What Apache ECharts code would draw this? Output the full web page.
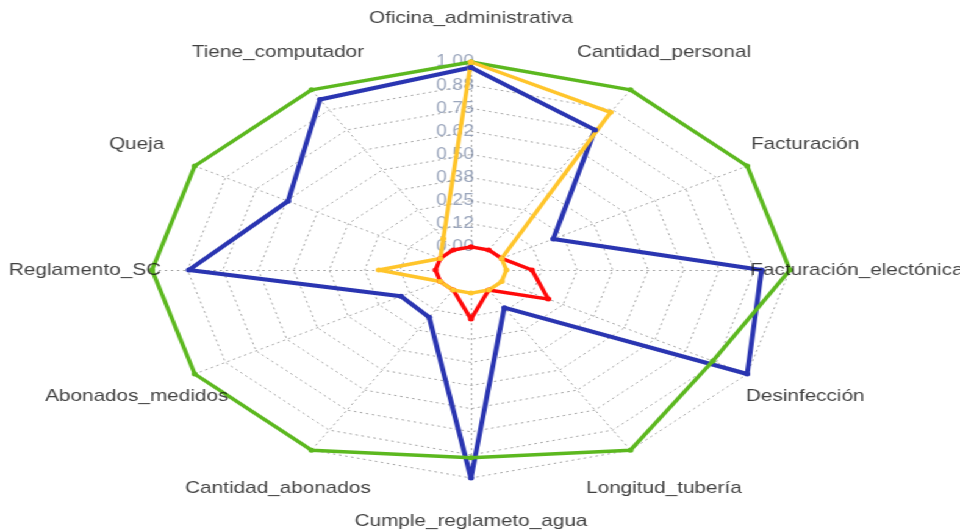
<!DOCTYPE html>
<html><head><meta charset="utf-8">
<script src="https://cdn.jsdelivr.net/npm/echarts@6/dist/echarts.min.js"></script>
<style>
html,body{margin:0;padding:0;background:#fff;overflow:hidden;}
#wrap{width:960px;height:531px;overflow:hidden;position:relative;background:#fff;}
#chart{width:787px;height:531px;transform:scaleX(1.2198);transform-origin:0 0;}
</style></head><body>
<div id="wrap"><div id="chart"></div></div>
<script>
// Axes, clockwise starting from the top
const categories = ["Oficina_administrativa","Cantidad_personal","Facturación","Facturación_electónica","Desinfección","Longitud_tubería","Cumple_reglameto_agua","Cantidad_abonados","Abonados_medidos","Reglamento_SC","Queja","Tiene_computador"];
const tickValues = [0, 0.125, 0.25, 0.375, 0.5, 0.625, 0.75, 0.875, 1];
const tickLabels = ["0.00","0.12","0.25","0.38","0.50","0.62","0.75","0.88","1.00"];
const seriesGreen  = [1.00, 1.00, 1.00, 1.00, 0.86, 1.00, 0.89, 1.00, 1.00, 1.00, 1.00, 1.00];
const seriesBlue   = [0.97, 0.75, 0.21, 0.90, 1.00, 0.11, 1.00, 0.17, 0.16, 0.87, 0.62, 0.94];
const seriesYellow = [1.00, 0.86, 0.00, 0.00, 0.00, 0.00, 0.00, 0.00, 0.00, 0.20, 0.00, 0.07];
const seriesRed    = [0.00, 0.00, 0.00, 0.09, 0.19, 0.00, 0.14, 0.00, 0.00, 0.00, 0.00, 0.00];

const SEG = tickValues.length - 1;
function frac(v){ return (1 + SEG * v) / (SEG + 1); }
function ang(i){ return Math.PI / 2 - i * 2 * Math.PI / categories.length; }
function ptF(f, i){ return [f * Math.cos(ang(i)), f * Math.sin(ang(i))]; }
function pt(v, i){ return ptF(frac(v), i); }
function poly(vals){ const a = vals.map((v, i) => pt(v, i)); a.push(a[0]); return a; }

const ringData = tickValues.map(t => ({ coords: poly(categories.map(() => t)) }));
const spokeData = categories.map((c, i) => ({ coords: [pt(0, i), pt(1, i)] }));

function dataSeries(vals, color, width){
  return {
    type: 'line', data: poly(vals), z: 5, clip: false,
    symbol: 'circle', symbolSize: 5, showSymbol: true,
    lineStyle: { color: color, width: width },
    itemStyle: { color: color }, silent: true
  };
}

const chart = echarts.init(document.getElementById('chart'), null, { renderer: 'canvas' });
chart.setOption({
  animation: false,
  backgroundColor: '#ffffff',
  grid: { left: 124.6, top: 62, width: 523, height: 416, show: false },
  xAxis: { type: 'value', min: -1, max: 1, show: false },
  yAxis: { type: 'value', min: -1, max: 1, show: false },
  series: [
    { type: 'lines', coordinateSystem: 'cartesian2d', polyline: true, z: 1, silent: true,
      data: ringData, lineStyle: { color: '#a8a8a8', width: 1, type: [2, 3], opacity: 1 } },
    { type: 'lines', coordinateSystem: 'cartesian2d', polyline: false, z: 1, silent: true,
      data: spokeData, lineStyle: { color: '#a8a8a8', width: 1, type: [2, 3], opacity: 1 } },
    { type: 'scatter', z: 2, clip: false, symbolSize: 0, silent: true,
      data: tickValues.map((t, k) => ({ value: [-0.05, frac(t)], name: tickLabels[k] })),
      label: { show: true, position: 'inside', formatter: '{b}', color: '#8391ad',
               fontSize: 16, fontFamily: 'Liberation Sans, Arial, sans-serif' } },
    dataSeries(seriesBlue, '#2a35b1', 4),
    dataSeries(seriesRed, '#ff0a0a', 3.5),
    dataSeries(seriesGreen, '#5cb81f', 3.5),
    dataSeries(seriesYellow, '#ffc52b', 3.5),
    { type: 'scatter', z: 6, clip: false, symbolSize: 0, silent: true,
      data: categories.map((c, i) => ({ value: ptF(1.21, i), name: c })),
      label: { show: true, position: 'inside', formatter: '{b}', color: '#111111',
               fontSize: 17, fontFamily: 'Liberation Sans, Arial, sans-serif' } }
  ]
});
</script>
</body></html>
